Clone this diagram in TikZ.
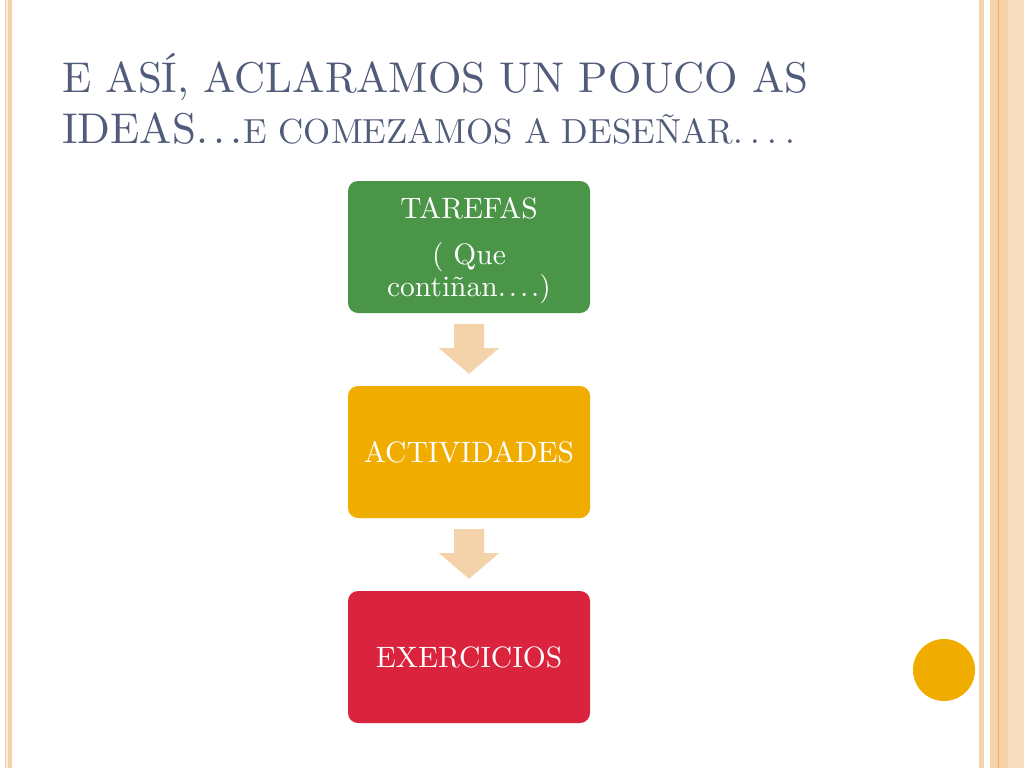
\documentclass[tikz,border=0pt]{standalone}
\usepackage{tikz}
\usetikzlibrary{calc}
\definecolor{peach}{HTML}{F5D3AA}
\definecolor{peachl}{HTML}{F8DDBE}
\definecolor{peachline}{HTML}{F0B040}
\definecolor{titlec}{HTML}{515C7A}
\definecolor{boxgreen}{HTML}{4A9548}
\definecolor{boxyellow}{HTML}{F0AD00}
\definecolor{boxred}{HTML}{DA243E}
\definecolor{circc}{HTML}{F0AD00}
\newcommand{\boxtxt}[1]{\scalebox{2.95}{\fontsize{10}{10.85}\selectfont\begin{tabular}{@{}c@{}}#1\end{tabular}}}
\newcommand{\ttltxt}[1]{\scalebox{4.3}{\fontsize{10}{12}\selectfont #1}}
\newcommand{\threedots}{.\hspace{1.2pt}.\hspace{1.2pt}.}
\newcommand{\fourdots}{.\hspace{2.2pt}.\hspace{2.2pt}.\hspace{2.2pt}.}
\newcommand{\boxdots}{.\hspace{1pt}.\hspace{1pt}.\hspace{1pt}.}
\begin{document}
\begin{tikzpicture}[x=1pt,y=-1pt,
  stepbox/.style={rounded corners=10pt, minimum width=242pt, minimum height=132pt,
    inner sep=0pt},
  boxlabel/.style={inner sep=0pt, text=white, align=center},
  titletext/.style={anchor=base west, text=titlec, inner sep=0pt},
  fatarrow/.style={fill=peach, draw=none}]
\useasboundingbox (0,0) rectangle (1024,768);
\fill[white] (0,0) rectangle (1024,768);
% left border
\fill[peach] (5,0) rectangle (12,768);
\fill[peachl!60!white] (6,0) rectangle (7.5,768);
% right border
\fill[peach] (979,0) rectangle (984,768);
\fill[peach] (990,0) rectangle (1008,768);
\fill[peachl] (1008,0) rectangle (1024,768);
\draw[peachline, line width=1pt] (998.5,0) -- (998.5,768);
% circle
\node[circle, fill=circc, minimum size=62pt, inner sep=0pt] (dot) at (944,670) {};
% title
\node[titletext] (t1) at (62,92) {\ttltxt{E ASÍ, ACLARAMOS UN POUCO AS}};
\node[titletext] (t2) at (62,143) {\ttltxt{IDEAS\threedots\hspace{0.3pt}\scalebox{0.81}{E COMEZAMOS A DESEÑAR\fourdots}}};
% boxes
\node[stepbox, fill=boxgreen] (b1) at (469,247) {};
\node[stepbox, fill=boxyellow] (b2) at (469,452) {};
\node[stepbox, fill=boxred] (b3) at (469,657) {};
\node[boxlabel] (b1t) at ($(b1)+(0,4)$) {\boxtxt{TAREFAS\\[5pt]( Que\\contiñan\boxdots)}};
\node[boxlabel] (b2t) at ($(b2)+(0,4)$) {\boxtxt{ACTIVIDADES}};
\node[boxlabel] (b3t) at ($(b3)+(0,4)$) {\boxtxt{EXERCICIOS}};
% arrows
\foreach \a/\b in {b1/b2, b2/b3}{
  \fill[fatarrow] ($(\a.south)+(-15,11)$) -- ($(\a.south)+(15,11)$) -- ($(\a.south)+(15,35)$)
    -- ($(\a.south)+(30,35)$) -- ($(\b.north)+(0,-12)$) -- ($(\a.south)+(-30,35)$)
    -- ($(\a.south)+(-15,35)$) -- cycle;
}
\end{tikzpicture}
\end{document}
